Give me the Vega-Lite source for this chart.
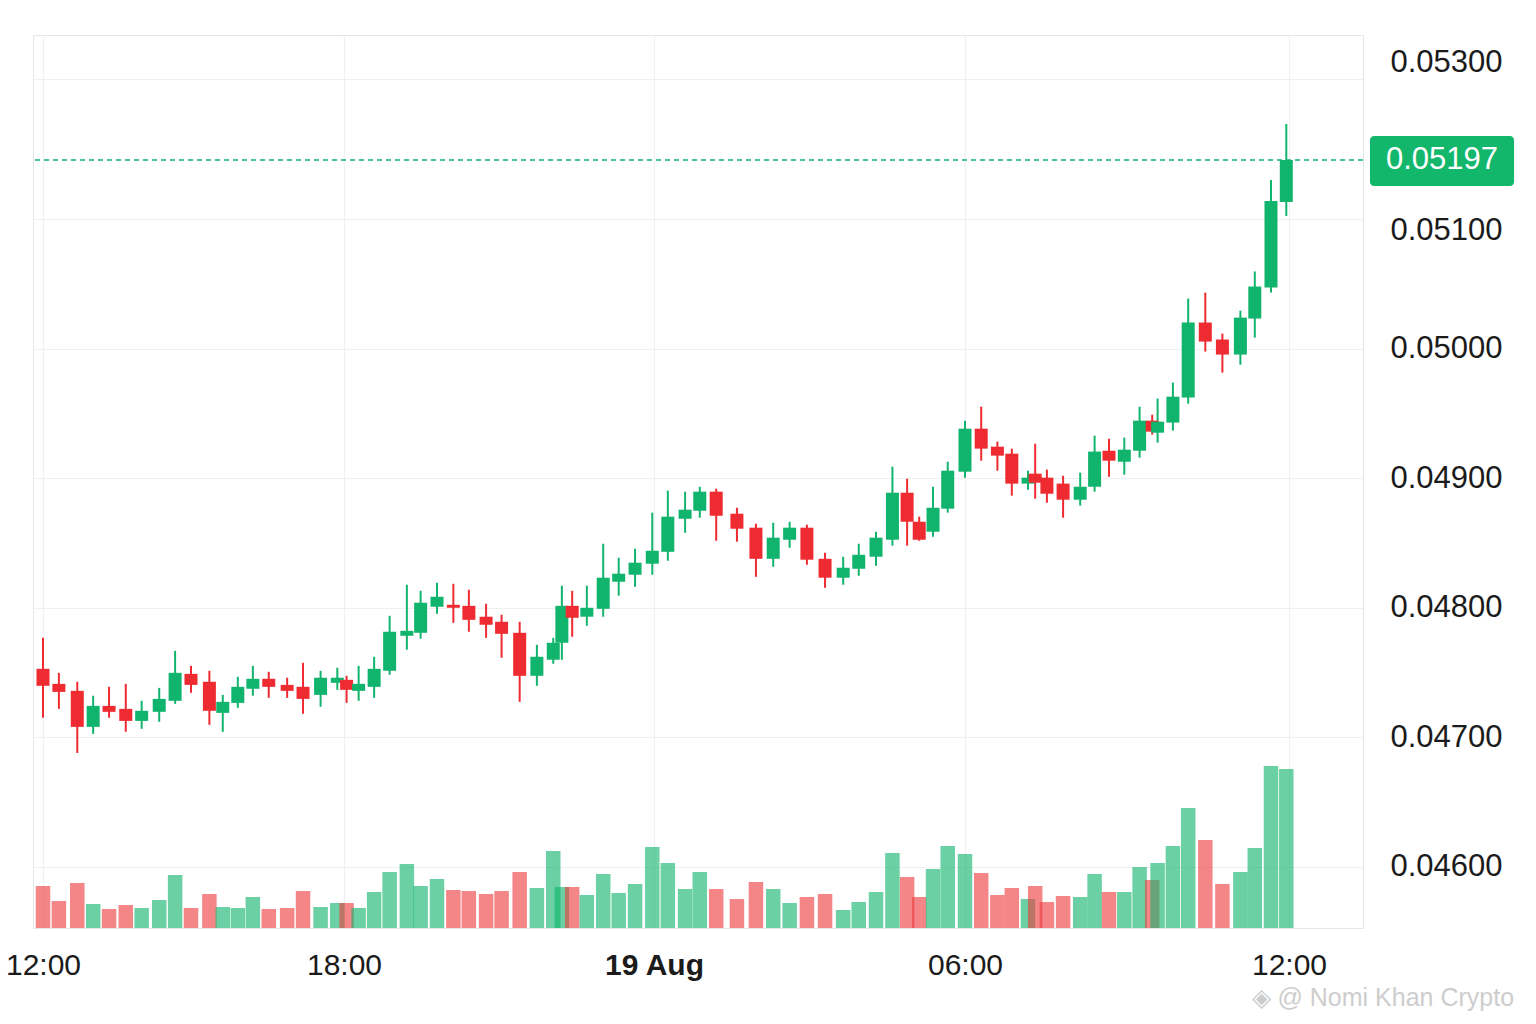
{
  "$schema": "https://vega.github.io/schema/vega-lite/v6.json",
  "width": 1330,
  "height": 893,
  "autosize": {"type": "none"},
  "padding": {"left": 33, "top": 35, "right": 173, "bottom": 96},
  "background": "#ffffff",
  "config": {
    "view": {"stroke": "#e3e6ea", "strokeWidth": 1},
    "font": "Liberation Sans",
    "axis": {"labelFont": "Liberation Sans", "titleFont": "Liberation Sans"}
  },
  "title": {
    "text": "◈ @ Nomi Khan Crypto",
    "orient": "bottom",
    "anchor": "end",
    "frame": "bounds",
    "color": "#cdcdcd",
    "fontSize": 25,
    "fontWeight": "normal",
    "font": "Liberation Sans",
    "offset": 6
  },
  "datasets": {
    "candles": [
      {"t": 1755518400000, "o": 0.047529, "h": 0.047768, "l": 0.047151, "c": 0.047398, "v": 42000},
      {"t": 1755519540000, "o": 0.047413, "h": 0.047498, "l": 0.047220, "c": 0.047351, "v": 27000},
      {"t": 1755520860000, "o": 0.047359, "h": 0.047429, "l": 0.046880, "c": 0.047081, "v": 45000},
      {"t": 1755522000000, "o": 0.047081, "h": 0.047321, "l": 0.047027, "c": 0.047243, "v": 24000},
      {"t": 1755523140000, "o": 0.047243, "h": 0.047390, "l": 0.047151, "c": 0.047197, "v": 19000},
      {"t": 1755524340000, "o": 0.047220, "h": 0.047413, "l": 0.047043, "c": 0.047127, "v": 23000},
      {"t": 1755525480000, "o": 0.047127, "h": 0.047282, "l": 0.047066, "c": 0.047205, "v": 20000},
      {"t": 1755526740000, "o": 0.047197, "h": 0.047382, "l": 0.047120, "c": 0.047297, "v": 28000},
      {"t": 1755527880000, "o": 0.047282, "h": 0.047668, "l": 0.047259, "c": 0.047498, "v": 53000},
      {"t": 1755529020000, "o": 0.047490, "h": 0.047552, "l": 0.047344, "c": 0.047405, "v": 20000},
      {"t": 1755530340000, "o": 0.047429, "h": 0.047514, "l": 0.047097, "c": 0.047205, "v": 34000},
      {"t": 1755531300000, "o": 0.047189, "h": 0.047328, "l": 0.047043, "c": 0.047274, "v": 21000},
      {"t": 1755532380000, "o": 0.047266, "h": 0.047467, "l": 0.047228, "c": 0.047390, "v": 20000},
      {"t": 1755533460000, "o": 0.047375, "h": 0.047552, "l": 0.047321, "c": 0.047452, "v": 31000},
      {"t": 1755534600000, "o": 0.047452, "h": 0.047506, "l": 0.047305, "c": 0.047390, "v": 19000},
      {"t": 1755535920000, "o": 0.047405, "h": 0.047460, "l": 0.047305, "c": 0.047359, "v": 20000},
      {"t": 1755537060000, "o": 0.047390, "h": 0.047575, "l": 0.047182, "c": 0.047297, "v": 37000},
      {"t": 1755538320000, "o": 0.047328, "h": 0.047514, "l": 0.047236, "c": 0.047460, "v": 21000},
      {"t": 1755539520000, "o": 0.047421, "h": 0.047537, "l": 0.047367, "c": 0.047460, "v": 25000},
      {"t": 1755540180000, "o": 0.047444, "h": 0.047475, "l": 0.047266, "c": 0.047367, "v": 25000},
      {"t": 1755541020000, "o": 0.047359, "h": 0.047552, "l": 0.047282, "c": 0.047413, "v": 20000},
      {"t": 1755542100000, "o": 0.047390, "h": 0.047622, "l": 0.047305, "c": 0.047529, "v": 36000},
      {"t": 1755543180000, "o": 0.047514, "h": 0.047938, "l": 0.047483, "c": 0.047815, "v": 56000},
      {"t": 1755544380000, "o": 0.047784, "h": 0.048178, "l": 0.047676, "c": 0.047822, "v": 64000},
      {"t": 1755545340000, "o": 0.047807, "h": 0.048131, "l": 0.047761, "c": 0.048039, "v": 42000},
      {"t": 1755546480000, "o": 0.048008, "h": 0.048193, "l": 0.047954, "c": 0.048085, "v": 49000},
      {"t": 1755547620000, "o": 0.048023, "h": 0.048185, "l": 0.047884, "c": 0.048000, "v": 38000},
      {"t": 1755548700000, "o": 0.048015, "h": 0.048139, "l": 0.047815, "c": 0.047907, "v": 37000},
      {"t": 1755549900000, "o": 0.047931, "h": 0.048031, "l": 0.047768, "c": 0.047869, "v": 34000},
      {"t": 1755550980000, "o": 0.047892, "h": 0.047946, "l": 0.047614, "c": 0.047799, "v": 37000},
      {"t": 1755552240000, "o": 0.047807, "h": 0.047892, "l": 0.047274, "c": 0.047475, "v": 56000},
      {"t": 1755553440000, "o": 0.047475, "h": 0.047714, "l": 0.047398, "c": 0.047622, "v": 40000},
      {"t": 1755554580000, "o": 0.047599, "h": 0.047768, "l": 0.047568, "c": 0.047730, "v": 77000},
      {"t": 1755555180000, "o": 0.047730, "h": 0.048170, "l": 0.047599, "c": 0.048015, "v": 41000},
      {"t": 1755555900000, "o": 0.048015, "h": 0.048131, "l": 0.047776, "c": 0.047923, "v": 41000},
      {"t": 1755556920000, "o": 0.047931, "h": 0.048170, "l": 0.047861, "c": 0.048000, "v": 33000},
      {"t": 1755558060000, "o": 0.047992, "h": 0.048494, "l": 0.047931, "c": 0.048232, "v": 54000},
      {"t": 1755559140000, "o": 0.048201, "h": 0.048386, "l": 0.048093, "c": 0.048263, "v": 35000},
      {"t": 1755560280000, "o": 0.048255, "h": 0.048456, "l": 0.048162, "c": 0.048348, "v": 44000},
      {"t": 1755561480000, "o": 0.048340, "h": 0.048734, "l": 0.048255, "c": 0.048440, "v": 81000},
      {"t": 1755562560000, "o": 0.048432, "h": 0.048904, "l": 0.048363, "c": 0.048703, "v": 65000},
      {"t": 1755563760000, "o": 0.048687, "h": 0.048896, "l": 0.048579, "c": 0.048757, "v": 39000},
      {"t": 1755564780000, "o": 0.048749, "h": 0.048934, "l": 0.048695, "c": 0.048896, "v": 56000},
      {"t": 1755565920000, "o": 0.048896, "h": 0.048919, "l": 0.048517, "c": 0.048710, "v": 39000},
      {"t": 1755567360000, "o": 0.048726, "h": 0.048772, "l": 0.048510, "c": 0.048610, "v": 29000},
      {"t": 1755568680000, "o": 0.048618, "h": 0.048649, "l": 0.048239, "c": 0.048378, "v": 46000},
      {"t": 1755569880000, "o": 0.048378, "h": 0.048656, "l": 0.048317, "c": 0.048541, "v": 39000},
      {"t": 1755571020000, "o": 0.048525, "h": 0.048664, "l": 0.048463, "c": 0.048618, "v": 25000},
      {"t": 1755572220000, "o": 0.048618, "h": 0.048641, "l": 0.048332, "c": 0.048371, "v": 31000},
      {"t": 1755573480000, "o": 0.048378, "h": 0.048425, "l": 0.048154, "c": 0.048232, "v": 34000},
      {"t": 1755574740000, "o": 0.048232, "h": 0.048394, "l": 0.048178, "c": 0.048309, "v": 18000},
      {"t": 1755575820000, "o": 0.048301, "h": 0.048494, "l": 0.048247, "c": 0.048409, "v": 26000},
      {"t": 1755577020000, "o": 0.048394, "h": 0.048587, "l": 0.048324, "c": 0.048541, "v": 36000},
      {"t": 1755578160000, "o": 0.048525, "h": 0.049089, "l": 0.048479, "c": 0.048888, "v": 75000},
      {"t": 1755579180000, "o": 0.048888, "h": 0.048996, "l": 0.048479, "c": 0.048664, "v": 51000},
      {"t": 1755580020000, "o": 0.048664, "h": 0.048703, "l": 0.048517, "c": 0.048525, "v": 31000},
      {"t": 1755580980000, "o": 0.048587, "h": 0.048934, "l": 0.048548, "c": 0.048772, "v": 59000},
      {"t": 1755582000000, "o": 0.048765, "h": 0.049127, "l": 0.048734, "c": 0.049058, "v": 82000},
      {"t": 1755583200000, "o": 0.049050, "h": 0.049444, "l": 0.049004, "c": 0.049382, "v": 74000},
      {"t": 1755584280000, "o": 0.049382, "h": 0.049552, "l": 0.049135, "c": 0.049228, "v": 55000},
      {"t": 1755585360000, "o": 0.049243, "h": 0.049282, "l": 0.049058, "c": 0.049174, "v": 33000},
      {"t": 1755586320000, "o": 0.049189, "h": 0.049228, "l": 0.048865, "c": 0.048958, "v": 40000},
      {"t": 1755587400000, "o": 0.048958, "h": 0.049058, "l": 0.048911, "c": 0.049004, "v": 29000},
      {"t": 1755587880000, "o": 0.049035, "h": 0.049266, "l": 0.048842, "c": 0.048965, "v": 42000},
      {"t": 1755588660000, "o": 0.049004, "h": 0.049066, "l": 0.048811, "c": 0.048880, "v": 26000},
      {"t": 1755589740000, "o": 0.048958, "h": 0.049019, "l": 0.048695, "c": 0.048834, "v": 32000},
      {"t": 1755590880000, "o": 0.048834, "h": 0.049043, "l": 0.048788, "c": 0.048934, "v": 31000},
      {"t": 1755591840000, "o": 0.048934, "h": 0.049328, "l": 0.048896, "c": 0.049205, "v": 54000},
      {"t": 1755592800000, "o": 0.049212, "h": 0.049305, "l": 0.049012, "c": 0.049135, "v": 36000},
      {"t": 1755593820000, "o": 0.049127, "h": 0.049313, "l": 0.049027, "c": 0.049220, "v": 36000},
      {"t": 1755594840000, "o": 0.049212, "h": 0.049552, "l": 0.049158, "c": 0.049444, "v": 61000},
      {"t": 1755595680000, "o": 0.049444, "h": 0.049490, "l": 0.049336, "c": 0.049359, "v": 48000},
      {"t": 1755596040000, "o": 0.049351, "h": 0.049614, "l": 0.049274, "c": 0.049436, "v": 65000},
      {"t": 1755597060000, "o": 0.049429, "h": 0.049738, "l": 0.049367, "c": 0.049629, "v": 82000},
      {"t": 1755598080000, "o": 0.049622, "h": 0.050386, "l": 0.049575, "c": 0.050201, "v": 120000},
      {"t": 1755599220000, "o": 0.050201, "h": 0.050432, "l": 0.049977, "c": 0.050054, "v": 88000},
      {"t": 1755600360000, "o": 0.050070, "h": 0.050116, "l": 0.049815, "c": 0.049954, "v": 44000},
      {"t": 1755601560000, "o": 0.049954, "h": 0.050293, "l": 0.049876, "c": 0.050239, "v": 56000},
      {"t": 1755602520000, "o": 0.050232, "h": 0.050595, "l": 0.050085, "c": 0.050479, "v": 80000},
      {"t": 1755603600000, "o": 0.050471, "h": 0.051641, "l": 0.050432, "c": 0.051296, "v": 162000},
      {"t": 1755604620000, "o": 0.051280, "h": 0.052428, "l": 0.051049, "c": 0.051970, "v": 159000}
    ],
    "last": [{"price": 0.05197}]
  },
  "resolve": {"scale": {"y": "independent"}},
  "layer": [
    {
      "data": {"name": "candles"},
      "mark": {"type": "bar", "width": 14.5, "opacity": 0.62},
      "encoding": {
        "x": {
          "field": "t",
          "type": "quantitative",
          "title": null,
          "scale": {
            "nice": false,
            "zero": false,
            "padding": 0,
            "domain": [1755517680000, 1755518400000, 1755540000000, 1755561600000, 1755583200000, 1755604800000, 1755609660000],
            "range": [0, 10, 311, 621, 932, 1256, 1330]
          },
          "axis": {
            "values": [1755518400000, 1755540000000, 1755561600000, 1755583200000, 1755604800000],
            "labelExpr": "utchours(datum.value) == 0 ? utcFormat(datum.value, '%d %b') : utcFormat(datum.value, '%H:%M')",
            "labelFontWeight": {"condition": {"test": "utchours(datum.value) == 0", "value": "bold"}, "value": "normal"},
            "labelFontSize": 30,
            "labelColor": "#1b1b1b",
            "labelPadding": 22,
            "labelFlush": false,
            "labelOverlap": false,
            "domain": false,
            "ticks": false,
            "grid": true,
            "gridColor": "#eef0f2",
            "gridWidth": 1.2
          }
        },
        "y": {
          "field": "v",
          "type": "quantitative",
          "scale": {"domain": [0, 893000], "nice": false, "zero": true},
          "axis": null
        },
        "color": {
          "condition": {"test": "datum.c >= datum.o", "value": "#10b46c"},
          "value": "#ee3b3f"
        }
      }
    },
    {
      "encoding": {
        "y": {
          "type": "quantitative",
          "scale": {
            "domain": [0.045529, 0.051, 0.05197, 0.05356],
            "range": [893, 184, 125, 0],
            "nice": false,
            "zero": false,
            "padding": 0
          }
        }
      },
      "layer": [
        {
          "data": {"name": "candles"},
          "mark": {"type": "rule", "strokeWidth": 2},
          "encoding": {
            "x": {"field": "t", "type": "quantitative"},
            "y": {
              "field": "l",
              "type": "quantitative",
              "title": null,
              "axis": {
                "orient": "right",
                "values": [0.046, 0.047, 0.048, 0.049, 0.05, 0.051, 0.053],
                "format": ".5f",
                "labelFontSize": 31,
                "labelColor": "#1b1b1b",
                "labelPadding": 27,
                "labelOffset": {
                  "condition": [
                    {"test": "datum.value > 0.0525", "value": -17},
                    {"test": "datum.value > 0.0505 && datum.value < 0.0515", "value": 11}
                  ],
                  "value": 0
                },
                "domain": false,
                "ticks": false,
                "grid": true,
                "gridColor": "#eef0f2",
                "gridWidth": 1.2,
                "labelFlush": false,
                "labelOverlap": false
              }
            },
            "y2": {"field": "h"},
            "color": {
              "condition": {"test": "datum.c >= datum.o", "value": "#10b46c"},
              "value": "#ef2b32"
            }
          }
        },
        {
          "data": {"name": "candles"},
          "mark": {"type": "bar", "width": 13},
          "encoding": {
            "x": {"field": "t", "type": "quantitative"},
            "y": {"field": "o", "type": "quantitative"},
            "y2": {"field": "c"},
            "color": {
              "condition": {"test": "datum.c >= datum.o", "value": "#10b46c"},
              "value": "#ef2b32"
            }
          }
        },
        {
          "data": {"name": "last"},
          "mark": {"type": "rule", "strokeDash": [5, 4], "strokeWidth": 1.5, "color": "#12b36c"},
          "encoding": {
            "y": {"field": "price", "type": "quantitative"}
          }
        },
        {
          "data": {"name": "last"},
          "mark": {"type": "rect", "cornerRadius": 4, "color": "#12b76c", "clip": false},
          "encoding": {
            "x": {"datum": 1755610120000, "type": "quantitative"},
            "x2": {"datum": 1755619580000},
            "y": {"datum": 0.051543, "type": "quantitative"},
            "y2": {"datum": 0.052275}
          }
        },
        {
          "data": {"name": "last"},
          "mark": {"type": "text", "fontSize": 31, "color": "#ffffff", "align": "center", "baseline": "middle", "font": "Liberation Sans", "clip": false},
          "encoding": {
            "x": {"datum": 1755614850000, "type": "quantitative"},
            "y": {"field": "price", "type": "quantitative"},
            "text": {"field": "price", "type": "quantitative", "format": ".5f"}
          }
        }
      ]
    }
  ]
}
